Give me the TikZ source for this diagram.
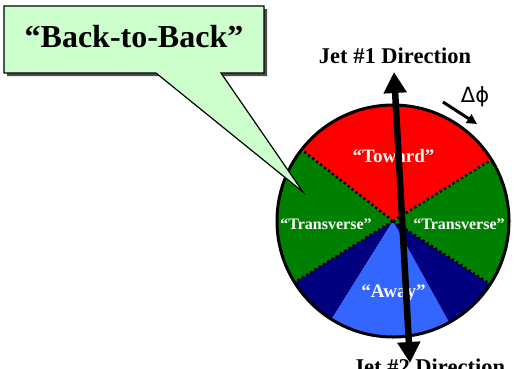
\documentclass[tikz,border=0pt]{standalone}
\usepackage{fontspec}
\setmainfont{Liberation Serif}
\newfontfamily\greekfont{DejaVu Sans}
\usetikzlibrary{arrows.meta}
\definecolor{towardred}{RGB}{255,0,0}
\definecolor{transgreen}{RGB}{0,128,0}
\definecolor{awaynavy}{RGB}{0,0,128}
\definecolor{awayblue}{RGB}{51,102,255}
\definecolor{calloutgreen}{RGB}{204,255,204}
\tikzset{
  regionlabel/.style={text=white, font=\bfseries\fontsize{19}{19}\selectfont, inner sep=0pt, anchor=base},
  translabel/.style={text=white, font=\bfseries\fontsize{16}{16}\selectfont, inner sep=0pt, anchor=base},
  jetlabel/.style={text=black, font=\bfseries\fontsize{22.5}{22.5}\selectfont, inner sep=0pt, anchor=base},
  divider/.style={line width=2.5pt, dash pattern=on 2.5pt off 2.5pt},
}
\begin{document}
\begin{tikzpicture}[x=1pt,y=1pt]
\useasboundingbox (0,0) rectangle (518,368);
\clip (0,0) rectangle (518,368);
\coordinate (c) at (393,147);
\def\R{116}
% wedges
\fill[towardred] (c) -- ++(32:\R) arc[start angle=32, end angle=142, radius=\R] -- cycle;
\fill[transgreen] (c) -- ++(142:\R) arc[start angle=142, end angle=212, radius=\R] -- cycle;
\fill[awaynavy] (c) -- ++(212:\R) arc[start angle=212, end angle=238, radius=\R] -- cycle;
\fill[awayblue] (c) -- ++(238:\R) arc[start angle=238, end angle=299, radius=\R] -- cycle;
\fill[awaynavy] (c) -- ++(299:\R) arc[start angle=299, end angle=327, radius=\R] -- cycle;
\fill[transgreen] (c) -- ++(327:\R) arc[start angle=327, end angle=392, radius=\R] -- cycle;
% dividers
\draw[divider] (c) -- ++(32:\R);
\draw[divider] (c) -- ++(142:\R);
\draw[divider] (c) -- ++(212:\R);
\draw[divider] (c) -- ++(327:\R);
% outline
\draw[line width=3pt] (c) circle[radius=\R];
% callout
\coordinate (tip) at (303,176);
\fill[black!70] (7,292) -- (267,292) -- (267,359) -- (264,359) -- (264,295) -- (7,295) -- cycle;
\draw[fill=calloutgreen, line width=1.2pt, line join=miter]
  (4,362) -- (264,362) -- (264,295) -- (221,295) -- (tip) -- (156,295) -- (4,295) -- cycle;
\node[font=\bfseries\fontsize{32}{32}\selectfont, inner sep=0pt, anchor=base] (b2b) at (134,321) {“Back-to-Back”};
% labels
\node[regionlabel] (toward) at (393.5,206) {“Toward”};
\node[translabel] (transL) at (326,139) {“Transverse”};
\node[translabel] (transR) at (459,139) {“Transverse”};
\node[regionlabel] (away) at (393.5,71) {“Away”};
% jet axis
\coordinate (jettop) at (394,296);
\coordinate (jetbot) at (410,5);
\draw[line width=6.5pt, {Triangle[width=22pt,length=21pt]}-{Triangle[width=22pt,length=21pt]}] (jetbot) -- (jettop);
\node[jetlabel] (jet1) at (395,305) {Jet \#1 Direction};
\node[jetlabel] (jet2) at (429,-6) {Jet \#2 Direction};
% delta phi
\node[font=\greekfont\fontsize{21}{21}\selectfont, inner sep=0pt, anchor=base] (dphi) at (475,266) {Δϕ};
\coordinate (dpa) at (443,266);
\coordinate (dpb) at (477,244);
\draw[line width=3pt, -{Triangle[width=10pt,length=10pt]}] (dpa) -- (dpb);
\end{tikzpicture}
\end{document}
